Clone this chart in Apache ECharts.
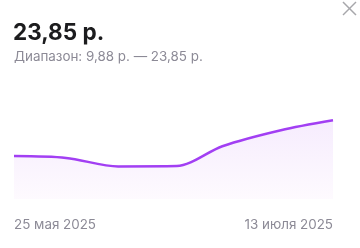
<!DOCTYPE html>
<html><head><meta charset="utf-8">
<script src="https://cdn.jsdelivr.net/npm/echarts@6/dist/echarts.min.js"></script>
<style>html,body{margin:0;padding:0;background:#fff}#c{width:360px;height:248px}</style>
</head><body><div id="c"></div>
<script>
const dates = ['2025-05-25','2025-06-02','2025-06-10','2025-06-19','2025-06-26','2025-07-05','2025-07-13'];
const prices = [13.0, 12.45, 9.88, 9.97, 16.0, 20.85, 23.85];
const tickLabels = ['25 мая 2025', '13 июля 2025'];
const titleText = '23,85 р.';
const subText = 'Диапазон: 9,88 р. — 23,85 р.';

const ts = dates.map(d => new Date(d + 'T00:00:00Z').getTime());
const chart = echarts.init(document.getElementById('c'), null, {renderer:'canvas'});
chart.setOption({
  animation:false,
  backgroundColor:'#fff',
  title:[{text:titleText,left:13,top:22,padding:0,textStyle:{fontFamily:'Inter',fontSize:22.5,fontWeight:700,color:'#1c1c1e'}},
         {text:subText,left:14,top:50,padding:0,textStyle:{fontFamily:'Inter',fontSize:13.4,fontWeight:400,color:'#8c8a96'}}],
  graphic:[
    {type:'line',shape:{x1:343,y1:2,x2:356,y2:15},style:{stroke:'#a7a7ab',lineWidth:1.5}},
    {type:'line',shape:{x1:356,y1:2,x2:343,y2:15},style:{stroke:'#a7a7ab',lineWidth:1.5}}
  ],
  grid:{left:14,right:27,top:100,bottom:49},
  xAxis:{type:'value',min:ts[0],max:ts[ts.length-1],
    axisLine:{show:false},axisTick:{show:false},splitLine:{show:false},
    axisLabel:{customValues:[ts[0],ts[ts.length-1]],
      formatter:(v)=> v===ts[0]?tickLabels[0]:tickLabels[1],
      alignMinLabel:'left',alignMaxLabel:'right',
      margin:19,fontFamily:'Inter',fontSize:13.4,color:'#8c8a96'}},
  yAxis:{type:'value',min:0,max:30,show:false,splitLine:{show:false}},
  series:[{type:'line',data:ts.map((t,i)=>[t,prices[i]]),smooth:0.3,symbol:'none',
    lineStyle:{color:'#a23ff3',width:2.5},
    areaStyle:{color:new echarts.graphic.LinearGradient(0,0,0,1,[{offset:0,color:'#f2e4fd'},{offset:1,color:'#fdf8fe'}]),origin:'start'}}]
});
</script></body></html>
